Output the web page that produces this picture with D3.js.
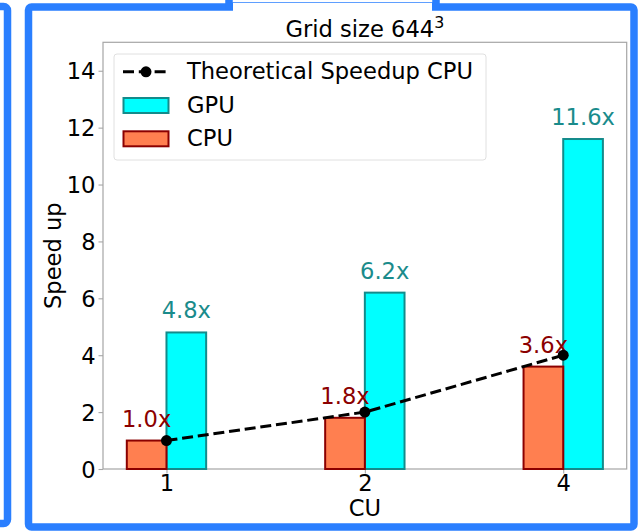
<!DOCTYPE html>
<html>
<head>
<meta charset="utf-8">
<script src="https://cdn.jsdelivr.net/npm/d3@7"></script>
<style>
  html, body { margin: 0; padding: 0; background: #fff; }
  svg { display: block; }
  text { font-family: "DejaVu Sans", sans-serif; }
</style>
</head>
<body>
<svg id="chart" width="638" height="532"></svg>
<script>
// Speedup per compute-unit count, grid size 644^3
const categories = ["1", "2", "4"];
const gpuSpeedup = [4.8, 6.2, 11.6];
const cpuSpeedup = [1.0, 1.8, 3.6];
const theoreticalCpu = [1, 2, 4];
const yTicks = [0, 2, 4, 6, 8, 10, 12, 14];
const titleText = "Grid size 644";
const titleSup = "3";
const xLabel = "CU";
const yLabel = "Speed up";
const legendLabels = ["Theoretical Speedup CPU", "GPU", "CPU"];

const svg = d3.select("#chart");
const FS = 22.6;
const frameBlue = "#2a7fff";

// surrounding selection frames
svg.append("rect").attr("x", -60).attr("y", 6.5).attr("width", 67.5).attr("height", 517)
  .attr("rx", 4).attr("fill", "none").attr("stroke", frameBlue).attr("stroke-width", 7.5);
svg.append("rect").attr("x", 28.5).attr("y", 7).attr("width", 605.5).attr("height", 520)
  .attr("rx", 3).attr("fill", "#fff").attr("stroke", frameBlue).attr("stroke-width", 7.5);
svg.append("rect").attr("x", 229).attr("y", -8).attr("width", 207).attr("height", 14)
  .attr("fill", "#fff").attr("stroke", frameBlue).attr("stroke-width", 7.5);
svg.append("rect").attr("x", 233).attr("y", 3).attr("width", 199).attr("height", 9).attr("fill", "#fff");

const plot = { left: 103, right: 626.7, top: 42.3, bottom: 469 };

const x = d3.scaleLinear().domain([-0.32, 2.32]).range([plot.left, plot.right]);
const y = d3.scaleLinear().domain([0, 15]).range([plot.bottom, plot.top]);
const barW = 0.2;

// axes
const spineColor = "#a6a6a6";
const yAxis = d3.axisLeft(y).tickValues(yTicks).tickSize(4.5).tickPadding(3).tickFormat(d3.format("d"));
const gy = svg.append("g").attr("transform", `translate(${plot.left},0)`).call(yAxis);
const xAxis = d3.axisBottom(x).tickValues([0, 1, 2]).tickSize(4.5).tickPadding(3)
  .tickFormat((d) => categories[d]);
const gx = svg.append("g").attr("transform", `translate(0,${plot.bottom})`).call(xAxis);
[gx, gy].forEach((g) => {
  g.select(".domain").remove();
  g.selectAll(".tick line").attr("stroke", spineColor).attr("stroke-width", 1.1);
  g.selectAll(".tick text").attr("fill", "#000").style("font-size", FS + "px")
    .style("font-family", "DejaVu Sans");
});
gy.selectAll(".tick text").attr("dy", "0.36em");
gx.selectAll(".tick text").attr("dy", "0.63em");

svg.append("rect").attr("x", plot.left).attr("y", plot.top)
  .attr("width", plot.right - plot.left).attr("height", plot.bottom - plot.top)
  .attr("fill", "none").attr("stroke", spineColor).attr("stroke-width", 1.2);

// bars: GPU first, then CPU
const gpuFill = "#00ffff", gpuEdge = "#138b8b", cpuFill = "#ff7f50", cpuEdge = "#8b0000";
svg.append("g").selectAll("rect").data(gpuSpeedup).join("rect")
  .attr("x", (d, i) => x(i))
  .attr("y", (d) => y(d))
  .attr("width", x(barW) - x(0))
  .attr("height", (d) => y(0) - y(d))
  .attr("fill", gpuFill).attr("stroke", gpuEdge).attr("stroke-width", 2);
svg.append("g").selectAll("rect").data(cpuSpeedup).join("rect")
  .attr("x", (d, i) => x(i - barW))
  .attr("y", (d) => y(d))
  .attr("width", x(barW) - x(0))
  .attr("height", (d) => y(0) - y(d))
  .attr("fill", cpuFill).attr("stroke", cpuEdge).attr("stroke-width", 2);

// value labels
svg.append("g").selectAll("text").data(gpuSpeedup).join("text")
  .attr("x", (d, i) => x(i + barW / 2))
  .attr("y", (d) => y(d) - 14)
  .attr("text-anchor", "middle").attr("fill", "#1a8b8b").style("font-size", FS + "px")
  .text((d) => d.toFixed(1) + "x");
svg.append("g").selectAll("text").data(cpuSpeedup).join("text")
  .attr("x", (d, i) => x(i - barW / 2))
  .attr("y", (d) => y(d) - 14)
  .attr("text-anchor", "middle").attr("fill", cpuEdge).style("font-size", FS + "px")
  .text((d) => d.toFixed(1) + "x");

// theoretical speedup line
const line = d3.line().x((d, i) => x(i)).y((d) => y(d));
svg.append("path").datum(theoreticalCpu).attr("d", line)
  .attr("fill", "none").attr("stroke", "#000").attr("stroke-width", 3)
  .attr("stroke-dasharray", "11,4.8");
svg.append("g").selectAll("circle").data(theoreticalCpu).join("circle")
  .attr("cx", (d, i) => x(i)).attr("cy", (d) => y(d)).attr("r", 5.5).attr("fill", "#000");

// title and axis labels
const title = svg.append("text").attr("x", (plot.left + plot.right) / 2).attr("y", 36.5)
  .attr("text-anchor", "middle").attr("fill", "#000").style("font-size", FS + "px");
title.append("tspan").text(titleText);
title.append("tspan").attr("dy", -9).style("font-size", (FS * 0.7) + "px").text(titleSup);

svg.append("text").attr("x", x(1)).attr("y", 516)
  .attr("text-anchor", "middle").attr("fill", "#000").style("font-size", FS + "px").text(xLabel);
svg.append("text").attr("transform", `translate(61,${(plot.top + plot.bottom) / 2}) rotate(-90)`)
  .attr("text-anchor", "middle").attr("fill", "#000").style("font-size", FS + "px").text(yLabel);

// legend
const lg = svg.append("g");
lg.append("rect").attr("x", 114).attr("y", 54).attr("width", 372).attr("height", 106).attr("rx", 3)
  .attr("fill", "#fff").attr("fill-opacity", 0.8).attr("stroke", "#e0e0e0").attr("stroke-width", 1);
const rowY = [79.3, 112.7, 146];
lg.append("line").attr("x1", 123).attr("x2", 169).attr("y1", rowY[0] - 7.5).attr("y2", rowY[0] - 7.5)
  .attr("stroke", "#000").attr("stroke-width", 3).attr("stroke-dasharray", "11,4.8");
lg.append("circle").attr("cx", 146).attr("cy", rowY[0] - 7.5).attr("r", 5.5).attr("fill", "#000");
lg.append("rect").attr("x", 123.5).attr("y", 98).attr("width", 45).attr("height", 15)
  .attr("fill", gpuFill).attr("stroke", gpuEdge).attr("stroke-width", 2);
lg.append("rect").attr("x", 123.5).attr("y", 131.3).attr("width", 45).attr("height", 15)
  .attr("fill", cpuFill).attr("stroke", cpuEdge).attr("stroke-width", 2);
lg.selectAll("text.lab").data(legendLabels).join("text").attr("class", "lab")
  .attr("x", 187).attr("y", (d, i) => rowY[i])
  .attr("fill", "#000").style("font-size", FS + "px").text((d) => d);
</script>
</body>
</html>
